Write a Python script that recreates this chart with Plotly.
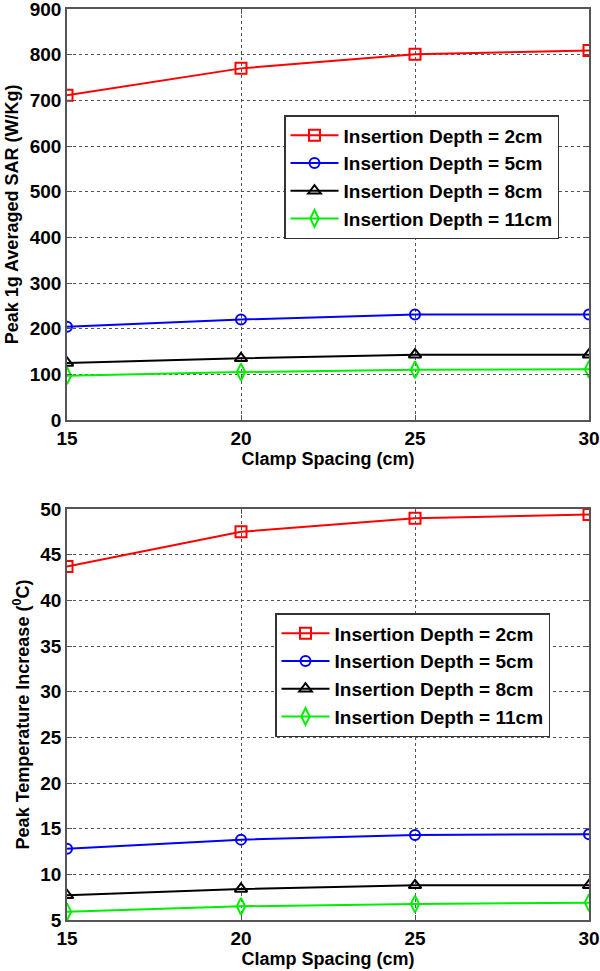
import plotly.graph_objects as go

spacing = [15, 20, 25, 30]
names = ["Insertion Depth = 2cm", "Insertion Depth = 5cm",
         "Insertion Depth = 8cm", "Insertion Depth = 11cm"]
sar_2cm = [711, 770, 801, 809]
sar_5cm = [204, 220, 231, 231]
sar_8cm = [125, 135, 143, 143]
sar_11cm = [97, 105, 110, 111]
temp_2cm = [43.7, 47.5, 49.0, 49.4]
temp_5cm = [12.8, 13.8, 14.3, 14.4]
temp_8cm = [7.7, 8.4, 8.8, 8.8]
temp_11cm = [5.9, 6.5, 6.75, 6.9]
x_ticks = [15, 20, 25, 30]
sar_ticks = [0, 100, 200, 300, 400, 500, 600, 700, 800, 900]
temp_ticks = [5, 10, 15, 20, 25, 30, 35, 40, 45, 50]

colors = ["#ff0000", "#0000ff", "#000000", "#00ee00"]
symbols = ["square-open", "circle-open", "triangle-up-open", "diamond-tall-open"]
msizes = [11, 10, 11, 12]

FONT = "Liberation Sans"
fig = go.Figure()

for i, ys in enumerate([sar_2cm, sar_5cm, sar_8cm, sar_11cm]):
    fig.add_trace(go.Scatter(
        x=spacing, y=ys, name=names[i], mode="lines+markers",
        line=dict(color=colors[i], width=2),
        marker=dict(symbol=symbols[i], size=msizes[i], color=colors[i],
                    line=dict(width=2, color=colors[i])),
        xaxis="x", yaxis="y", legend="legend"))

for i, ys in enumerate([temp_2cm, temp_5cm, temp_8cm, temp_11cm]):
    fig.add_trace(go.Scatter(
        x=spacing, y=ys, name=names[i], mode="lines+markers",
        line=dict(color=colors[i], width=2),
        marker=dict(symbol=symbols[i], size=msizes[i], color=colors[i],
                    line=dict(width=2, color=colors[i])),
        xaxis="x2", yaxis="y2", legend="legend2"))

tickfont = dict(family=FONT, size=19, color="black", weight="bold")
titlefont = dict(family=FONT, size=18, color="black", weight="bold")
axcommon = dict(showline=True, mirror="ticks", linecolor="#555", linewidth=1.5,
                ticks="inside", ticklen=5, tickcolor="#555",
                showgrid=True, gridcolor="#555", griddash="dot", gridwidth=1,
                zeroline=False, tickfont=tickfont, automargin=False,
                ticklabeloverflow="allow")

W, H = 600, 971
xd = [67 / W, 589 / W]
top_dom = [1 - 420 / H, 1 - 9 / H]
bot_dom = [1 - 920 / H, 1 - 509 / H]

legcommon = dict(bgcolor="white", bordercolor="#333", borderwidth=1.5,
                 font=dict(family=FONT, size=19, color="black", weight="bold"),
                 itemwidth=48, tracegroupgap=0, xanchor="left", yanchor="top")

fig.update_layout(
    width=W, height=H, margin=dict(l=0, r=0, t=0, b=0),
    paper_bgcolor="white", plot_bgcolor="white",
    xaxis=dict(domain=xd, anchor="y", range=[15, 30], tickvals=x_ticks,
               title=dict(text="Clamp Spacing (cm)", standoff=0, font=titlefont),
               **axcommon),
    yaxis=dict(domain=top_dom, anchor="x", range=[0, 900], tickvals=sar_ticks,
               title=dict(text="Peak 1g Averaged SAR (W/Kg)", standoff=6, font=titlefont),
               **axcommon),
    xaxis2=dict(domain=xd, anchor="y2", range=[15, 30], tickvals=x_ticks,
                title=dict(text="Clamp Spacing (cm)", standoff=0, font=titlefont),
                **axcommon),
    yaxis2=dict(domain=bot_dom, anchor="x2", range=[5, 50], tickvals=temp_ticks,
                title=dict(text="Peak Temperature Increase (<sup>0</sup>C)", standoff=6,
                           font=titlefont),
                **axcommon),
    legend=dict(x=284 / W, y=1 - 115 / H, **legcommon),
    legend2=dict(x=275 / W, y=1 - 613 / H, **legcommon),
)

fig.write_html("out.html", config={"displayModeBar": False},
               post_script="document.body.style.margin='0';document.body.style.overflow='hidden';")
